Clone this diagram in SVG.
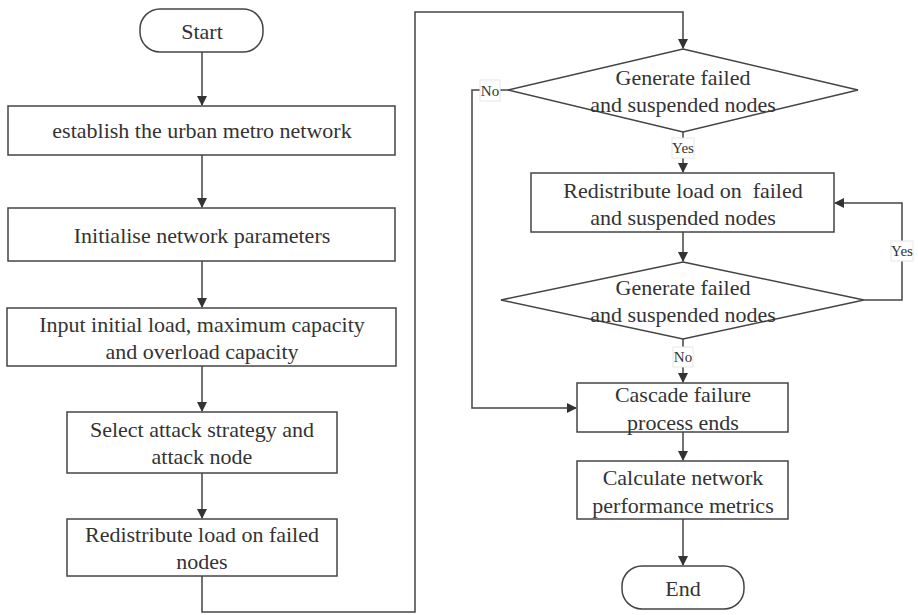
<svg xmlns="http://www.w3.org/2000/svg" width="918" height="615" viewBox="0 0 918 615">
<style>
.n{fill:#fff;stroke:#444;stroke-width:1.5}
.t{font-family:'Liberation Serif','Times New Roman',serif;font-size:22px;fill:#333;text-anchor:middle}
.c{fill:none;stroke:#444;stroke-width:1.5}
.lb{fill:#fff;stroke:#e6e6e6;stroke-width:1}
.lt{font-family:'Liberation Serif','Times New Roman',serif;font-size:15px;fill:#333;text-anchor:middle}
</style>
<defs>
<marker id="a" markerWidth="10" markerHeight="10" refX="9" refY="5" orient="auto" markerUnits="userSpaceOnUse">
<path d="M0,0 L10,5 L0,10 z" fill="#333"/>
</marker>
</defs>
<rect width="918" height="615" fill="#fff"/>
<g id="connectors">
<path class="c" d="M202,52 V105" marker-end="url(#a)"/>
<path class="c" d="M202,155 V207" marker-end="url(#a)"/>
<path class="c" d="M202,261 V307" marker-end="url(#a)"/>
<path class="c" d="M202,366 V411" marker-end="url(#a)"/>
<path class="c" d="M202,473 V518" marker-end="url(#a)"/>
<path class="c" d="M202,576 V612 H415 V12 H683 V48" marker-end="url(#a)"/>
<path class="c" d="M683,132 V172" marker-end="url(#a)"/>
<path class="c" d="M683,232 V261" marker-end="url(#a)"/>
<path class="c" d="M864,300 H902 V203 H835" marker-end="url(#a)"/>
<path class="c" d="M683,339 V382" marker-end="url(#a)"/>
<path class="c" d="M508,90 H472 V408 H576" marker-end="url(#a)"/>
<path class="c" d="M683,432 V460" marker-end="url(#a)"/>
<path class="c" d="M683,519 V565" marker-end="url(#a)"/>
<rect class="lb" x="480" y="80" width="20" height="21"/>
<text class="lt" x="490" y="96">No</text>
<rect class="lb" x="672" y="138" width="22" height="20"/>
<text class="lt" x="683" y="153">Yes</text>
<rect class="lb" x="891" y="241" width="22" height="20"/>
<text class="lt" x="902" y="256">Yes</text>
<rect class="lb" x="673" y="347" width="20" height="20"/>
<text class="lt" x="683" y="362">No</text>
</g>
<g id="start">
<rect class="n" x="140" y="9" width="123" height="43" rx="20"/>
<text class="t" x="202" y="39">Start</text>
</g>
<g id="establish">
<rect class="n" x="8" y="106" width="387" height="49"/>
<text class="t" x="202" y="138">establish the urban metro network</text>
</g>
<g id="initialise">
<rect class="n" x="8" y="208" width="387" height="53"/>
<text class="t" x="202" y="243">Initialise network parameters</text>
</g>
<g id="input">
<rect class="n" x="7" y="308" width="389" height="58"/>
<text class="t" x="202" y="332">Input initial load, maximum capacity</text>
<text class="t" x="202" y="359">and overload capacity</text>
</g>
<g id="select">
<rect class="n" x="67" y="412" width="270" height="61"/>
<text class="t" x="202" y="437">Select attack strategy and</text>
<text class="t" x="202" y="464">attack node</text>
</g>
<g id="redistribute1">
<rect class="n" x="67" y="519" width="270" height="57"/>
<text class="t" x="202" y="542">Redistribute load on failed</text>
<text class="t" x="202" y="569">nodes</text>
</g>
<g id="decision1">
<polygon class="n" points="683,49 858,90 683,132 508,90"/>
<text class="t" x="683" y="85">Generate failed</text>
<text class="t" x="683" y="112">and suspended nodes</text>
</g>
<g id="redistribute2">
<rect class="n" x="531" y="173" width="303" height="59"/>
<text class="t" x="683" y="198" xml:space="preserve">Redistribute load on  failed</text>
<text class="t" x="683" y="225">and suspended nodes</text>
</g>
<g id="decision2">
<polygon class="n" points="683,262 864,300 683,339 501,300"/>
<text class="t" x="683" y="295">Generate failed</text>
<text class="t" x="683" y="322">and suspended nodes</text>
</g>
<g id="cascade">
<rect class="n" x="577" y="383" width="211" height="49"/>
<text class="t" x="683" y="402">Cascade failure</text>
<text class="t" x="683" y="430">process ends</text>
</g>
<g id="calculate">
<rect class="n" x="577" y="461" width="211" height="58"/>
<text class="t" x="683" y="485">Calculate network</text>
<text class="t" x="683" y="513">performance metrics</text>
</g>
<g id="end">
<rect class="n" x="622" y="566" width="122" height="43" rx="20"/>
<text class="t" x="683" y="596">End</text>
</g>
</svg>
